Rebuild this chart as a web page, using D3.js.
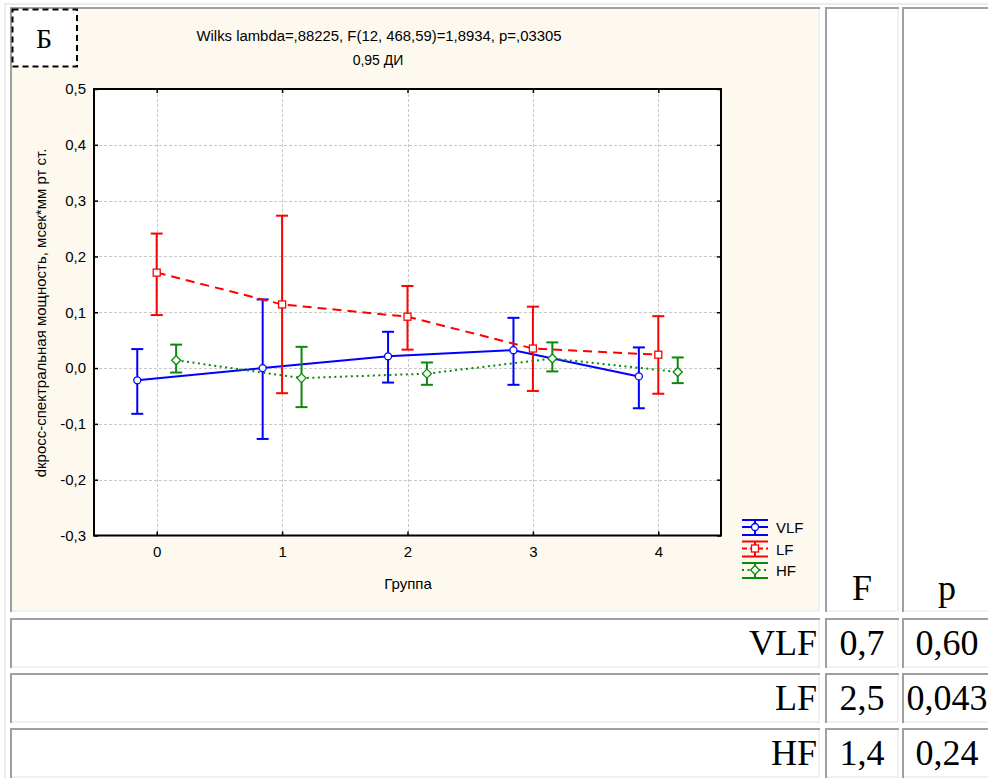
<!DOCTYPE html>
<html>
<head>
<meta charset="utf-8">
<script src="https://cdn.jsdelivr.net/npm/d3@7"></script>
<style>
  body { margin: 0; background: #fff; }
  svg { display: block; }
</style>
</head>
<body>
<div id="main"></div>
<script>
// values
const groups = [0, 1, 2, 3, 4];
const seriesNames = ["VLF", "LF", "HF"];

const vlfMean = [-0.022, 0.000, 0.021, 0.032, -0.015];
const vlfLow  = [-0.082, -0.127, -0.026, -0.030, -0.072];
const vlfHigh = [0.034, 0.123, 0.065, 0.090, 0.037];

const lfMean = [0.171, 0.114, 0.092, 0.035, 0.024];
const lfLow  = [0.095, -0.045, 0.033, -0.041, -0.046];
const lfHigh = [0.241, 0.273, 0.147, 0.110, 0.093];

const hfMean = [0.014, -0.018, -0.010, 0.017, -0.007];
const hfLow  = [-0.008, -0.070, -0.030, -0.006, -0.027];
const hfHigh = [0.042, 0.038, 0.010, 0.046, 0.019];

const yTicks = [0.5, 0.4, 0.3, 0.2, 0.1, 0.0, -0.1, -0.2, -0.3];
const yTickLabels = ["0,5", "0,4", "0,3", "0,2", "0,1", "0,0", "-0,1", "-0,2", "-0,3"];

const tableRows = ["VLF", "LF", "HF"];
const fValues = ["0,7", "2,5", "1,4"];
const pValues = ["0,60", "0,043", "0,24"];

const titleText = "Wilks lambda=,88225, F(12, 468,59)=1,8934, p=,03305";
const subTitle = "0,95 ДИ";
const yLabel = "dкросс-спектральная мощность, мсек*мм рт ст.";
const xLabel = "Группа";
const panelLetter = "Б";

// layout
const ctx = {
  width: 988, height: 778,
  plotLeft: 94, plotRight: 721, plotTop: 89, plotBottom: 535.5,
  sans: "'Liberation Sans', Arial, sans-serif",
  serif: "'Liberation Serif', 'Times New Roman', serif",
  cream: "#fdf9ef",
  fs: "15px"
};

const series = [
  {name: "VLF", mean: vlfMean, low: vlfLow, high: vlfHigh, color: "#0000ff", dash: null, marker: "circle", offset: -0.155},
  {name: "LF", mean: lfMean, low: lfLow, high: lfHigh, color: "#ff0000", dash: "9,6", marker: "square", offset: 0},
  {name: "HF", mean: hfMean, low: hfLow, high: hfHigh, color: "#0a8a0a", dash: "2,3.5", marker: "diamond", offset: 0.155}
];

const svg = d3.select("#main").append("svg")
  .attr("width", ctx.width)
  .attr("height", ctx.height);

// ---- table frame (html-like border=1 table) ----
const cols = [[10, 820], [825, 899], [902, 994]];
const rows = [[7, 612], [618, 668], [673, 723], [728, 778]];

svg.append("rect").attr("x", 4).attr("y", 3).attr("width", ctx.width).attr("height", 2).attr("fill", "#ececec");
svg.append("rect").attr("x", 4).attr("y", 3).attr("width", 2).attr("height", ctx.height).attr("fill", "#ececec");

const cells = [];
rows.forEach((r, ri) => cols.forEach((c, ci) => cells.push({r, c, ri, ci})));

const cellG = svg.append("g");
cells.forEach(d => {
  const w = d.c[1] - d.c[0], h = d.r[1] - d.r[0];
  cellG.append("rect").attr("x", d.c[0]).attr("y", d.r[0]).attr("width", w).attr("height", h)
    .attr("fill", (d.ri == 0 && d.ci == 0) ? ctx.cream : "#fff");
  cellG.append("rect").attr("x", d.c[0]).attr("y", d.r[0]).attr("width", w).attr("height", 2).attr("fill", "#a0a0a0");
  cellG.append("rect").attr("x", d.c[0]).attr("y", d.r[0]).attr("width", 2).attr("height", h).attr("fill", "#a0a0a0");
  cellG.append("rect").attr("x", d.c[0] + 2).attr("y", d.r[1] - 2).attr("width", w - 2).attr("height", 2).attr("fill", "#f0f0f0");
  cellG.append("rect").attr("x", d.c[1] - 2).attr("y", d.r[0] + 2).attr("width", 2).attr("height", h - 2).attr("fill", "#f0f0f0");
});

// header cells F and p
svg.append("text").attr("x", 862).attr("y", 600).attr("text-anchor", "middle")
  .style("font-family", ctx.serif).style("font-size", "36px").text("F");
svg.append("text").attr("x", 947).attr("y", 600).attr("text-anchor", "middle")
  .style("font-family", ctx.serif).style("font-size", "36px").text("p");

const baseY = [655, 710, 765];
const tg = svg.append("g").style("font-family", ctx.serif).style("font-size", "36px");
tg.selectAll(".rlab").data(tableRows).enter().append("text")
  .attr("x", 817).attr("y", (d, i) => baseY[i]).attr("text-anchor", "end").text(d => d);
tg.selectAll(".fval").data(fValues).enter().append("text")
  .attr("x", 862).attr("y", (d, i) => baseY[i]).attr("text-anchor", "middle").text(d => d);
tg.selectAll(".pval").data(pValues).enter().append("text")
  .attr("x", 947).attr("y", (d, i) => baseY[i]).attr("text-anchor", "middle").text(d => d);

// ---- chart ----
const x = d3.scaleLinear().domain([-0.5, 4.5]).range([ctx.plotLeft, ctx.plotRight]);
const y = d3.scaleLinear().domain([-0.3, 0.5]).range([ctx.plotBottom, ctx.plotTop]);

// panel letter box
svg.append("rect").attr("x", 12.5).attr("y", 9.5).attr("width", 64.5).attr("height", 57)
  .attr("fill", "#fff").attr("stroke", "#000").attr("stroke-width", 2).attr("stroke-dasharray", "6,4");
svg.append("text").attr("x", 44).attr("y", 48).attr("text-anchor", "middle")
  .style("font-family", ctx.serif).style("font-size", "28px").text(panelLetter);

// titles
svg.append("text").attr("x", 379).attr("y", 40.5).attr("text-anchor", "middle")
  .style("font-family", ctx.sans).style("font-size", "14px")
  .attr("textLength", 365).attr("lengthAdjust", "spacingAndGlyphs").text(titleText);
svg.append("text").attr("x", 378).attr("y", 65).attr("text-anchor", "middle")
  .style("font-family", ctx.sans).style("font-size", "14px").text(subTitle);

// plot background
svg.append("rect").attr("x", ctx.plotLeft).attr("y", ctx.plotTop)
  .attr("width", ctx.plotRight - ctx.plotLeft).attr("height", ctx.plotBottom - ctx.plotTop).attr("fill", "#fff");

// grid
const grid = svg.append("g").attr("stroke", "#c8c8c8").attr("stroke-width", 1).attr("stroke-dasharray", "3,2");
grid.selectAll(".gy").data(yTicks.slice(1, -1)).enter().append("line")
  .attr("x1", ctx.plotLeft).attr("x2", ctx.plotRight)
  .attr("y1", d => Math.round(y(d)) + 0.5).attr("y2", d => Math.round(y(d)) + 0.5);
grid.selectAll(".gx").data(groups).enter().append("line")
  .attr("y1", ctx.plotTop).attr("y2", ctx.plotBottom)
  .attr("x1", d => Math.round(x(d)) + 0.5).attr("x2", d => Math.round(x(d)) + 0.5);

// axes with inward ticks
const axL = svg.append("g").attr("transform", `translate(${ctx.plotLeft},0)`)
  .call(d3.axisLeft(y).tickValues(yTicks).tickSize(-4).tickPadding(8).tickFormat((d, i) => yTickLabels[i]));
const axB = svg.append("g").attr("transform", `translate(0,${ctx.plotBottom})`)
  .call(d3.axisBottom(x).tickValues(groups).tickSize(-4).tickPadding(11).tickFormat(d3.format("d")));
const axR = svg.append("g").attr("transform", `translate(${ctx.plotRight},0)`)
  .call(d3.axisRight(y).tickValues(yTicks).tickSize(-4).tickFormat(""));
const axT = svg.append("g").attr("transform", `translate(0,${ctx.plotTop})`)
  .call(d3.axisTop(x).tickValues(groups).tickSize(-4).tickFormat(""));
[axL, axB, axR, axT].forEach(a => {
  a.select(".domain").remove();
  a.selectAll(".tick line").attr("stroke", "#000").attr("stroke-width", 1.5);
  a.selectAll("text").style("font-family", ctx.sans).style("font-size", ctx.fs).attr("fill", "#000");
});

// frame
svg.append("rect").attr("x", ctx.plotLeft).attr("y", ctx.plotTop)
  .attr("width", ctx.plotRight - ctx.plotLeft).attr("height", ctx.plotBottom - ctx.plotTop)
  .attr("fill", "none").attr("stroke", "#000").attr("stroke-width", 2);

// axis titles
svg.append("text").attr("transform", "translate(46,313) rotate(-90)").attr("text-anchor", "middle")
  .style("font-family", ctx.sans).style("font-size", ctx.fs).text(yLabel);
svg.append("text").attr("x", 408).attr("y", 589).attr("text-anchor", "middle")
  .style("font-family", ctx.sans).style("font-size", ctx.fs).text(xLabel);

function drawMarker(g, type, cx, cy, color) {
  if (type == "circle") {
    g.append("circle").attr("cx", cx).attr("cy", cy).attr("r", 3.5)
      .attr("fill", "#fff").attr("stroke", color).attr("stroke-width", 1.3);
  } else if (type == "square") {
    g.append("rect").attr("x", cx - 3.5).attr("y", cy - 3.5).attr("width", 7).attr("height", 7)
      .attr("fill", "#fff").attr("stroke", color).attr("stroke-width", 1.3);
  } else {
    g.append("path").attr("d", `M${cx},${cy - 4.5}L${cx + 4.5},${cy}L${cx},${cy + 4.5}L${cx - 4.5},${cy}Z`)
      .attr("fill", "#fff").attr("stroke", color).attr("stroke-width", 1.3);
  }
}

// series lines, error bars, markers
const plotG = svg.append("g");
series.forEach(s => {
  const pts = groups.map((g, i) => ({gx: x(g + s.offset), m: s.mean[i], lo: s.low[i], hi: s.high[i]}));
  const line = d3.line().x(d => d.gx).y(d => y(d.m));
  plotG.append("path").datum(pts).attr("d", line)
    .attr("fill", "none").attr("stroke", s.color).attr("stroke-width", 2)
    .attr("stroke-dasharray", s.dash);
  const eb = plotG.append("g").attr("stroke", s.color).attr("stroke-width", 2);
  pts.forEach(p => {
    eb.append("line").attr("x1", p.gx).attr("x2", p.gx).attr("y1", y(p.lo)).attr("y2", y(p.hi));
    eb.append("line").attr("x1", p.gx - 6).attr("x2", p.gx + 6).attr("y1", y(p.lo)).attr("y2", y(p.lo));
    eb.append("line").attr("x1", p.gx - 6).attr("x2", p.gx + 6).attr("y1", y(p.hi)).attr("y2", y(p.hi));
  });
  pts.forEach(p => drawMarker(plotG, s.marker, p.gx, y(p.m), s.color));
});

// legend
const legY = [527, 548.5, 570];
series.forEach((s, i) => {
  const g = svg.append("g");
  const c = legY[i], x0 = 742, x1 = 768, xm = 755;
  g.append("line").attr("x1", x0).attr("x2", x1).attr("y1", c - 7).attr("y2", c - 7).attr("stroke", s.color).attr("stroke-width", 2);
  g.append("line").attr("x1", x0).attr("x2", x1).attr("y1", c + 8).attr("y2", c + 8).attr("stroke", s.color).attr("stroke-width", 2);
  g.append("line").attr("x1", xm).attr("x2", xm).attr("y1", c - 7).attr("y2", c + 8).attr("stroke", s.color).attr("stroke-width", 2);
  g.append("line").attr("x1", x0).attr("x2", x1).attr("y1", c).attr("y2", c).attr("stroke", s.color).attr("stroke-width", 2)
    .attr("stroke-dasharray", s.name == "LF" ? "5,3" : s.dash);
  drawMarker(g, s.marker, xm, c, s.color);
  g.append("text").attr("x", 776).attr("y", c + 6).style("font-family", ctx.sans).style("font-size", ctx.fs).text(s.name);
});
</script>
</body>
</html>
